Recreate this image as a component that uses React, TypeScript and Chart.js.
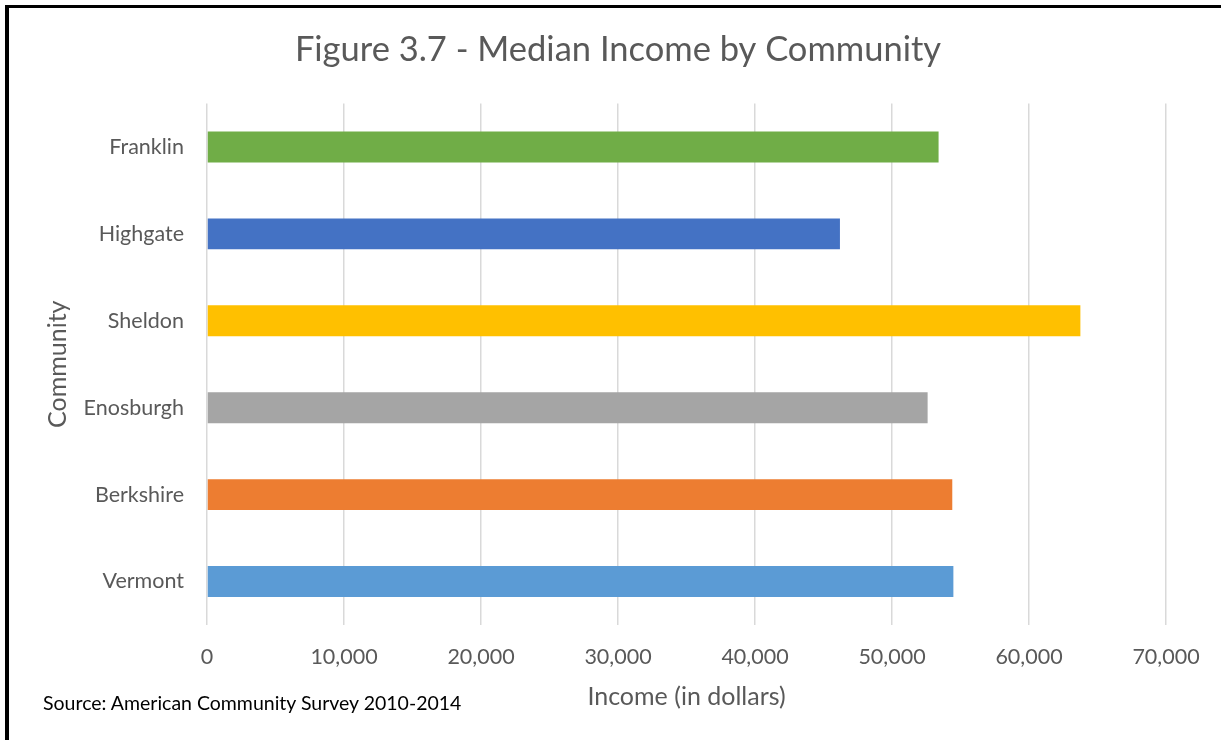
import React, { useEffect, useRef } from "react";
import { Chart, registerables } from "chart.js";

Chart.register(...registerables);

const communities = ["Franklin", "Highgate", "Sheldon", "Enosburgh", "Berkshire", "Vermont"];
const medianIncome = [53400, 46200, 63750, 52600, 54400, 54480];
const barColors = ["#70AD47", "#4472C4", "#FFC000", "#A5A5A5", "#ED7D31", "#5B9BD5"];
const xTicks = [0, 10000, 20000, 30000, 40000, 50000, 60000, 70000];

const FONT = "Lato, Carlito, Calibri, sans-serif";

export default function App() {
  const ref = useRef<HTMLCanvasElement | null>(null);

  useEffect(() => {
    const canvas = ref.current;
    if (!canvas) return;
    const chart = new Chart(canvas, {
      type: "bar",
      data: {
        labels: communities,
        datasets: [
          {
            data: medianIncome,
            backgroundColor: barColors,
            borderWidth: 0,
            categoryPercentage: 1,
            barPercentage: 0.356,
          },
        ],
      },
      options: {
        indexAxis: "y",
        animation: false,
        responsive: false,
        maintainAspectRatio: false,
        layout: { padding: { left: 70, right: 55, top: 0, bottom: 28.5 } },
        plugins: {
          legend: { display: false },
          tooltip: { enabled: false },
          title: {
            display: true,
            text: "Figure 3.7 - Median Income by Community",
            color: "#595959",
            font: { family: FONT, size: 34.5, weight: "normal" },
            padding: { top: 29.5, bottom: 32.6 },
          },
        },
        scales: {
          x: {
            type: "linear",
            min: 0,
            max: 70000,
            afterBuildTicks: (scale: any) => {
              scale.ticks = xTicks.map((v) => ({ value: v }));
            },
            afterFit: (scale: any) => {
              scale.height = 86.5;
            },
            grid: { color: "#D9D9D9", lineWidth: 1.5, drawTicks: false },
            border: { display: false },
            ticks: {
              color: "#595959",
              font: { family: FONT, size: 21.5 },
              padding: 19,
              maxRotation: 0,
              callback: (v: any) => Number(v).toLocaleString("en-US"),
            },
            title: {
              display: true,
              text: "Income (in dollars)",
              color: "#595959",
              font: { family: FONT, size: 25 },
              padding: 0,
            },
          },
          y: {
            type: "category",
            afterFit: (scale: any) => {
              scale.width = 137;
            },
            grid: { display: false, drawTicks: false },
            border: { display: false },
            ticks: {
              color: "#595959",
              font: { family: FONT, size: 21.5 },
              padding: 23,
            },
            title: {
              display: true,
              text: "Community",
              color: "#595959",
              font: { family: FONT, size: 25 },
              padding: { top: -27, bottom: 0 },
            },
          },
        },
      },
    });
    return () => chart.destroy();
  }, []);

  return (
    <div style={{ position: "fixed", left: 0, top: 0, width: 1221, height: 740, background: "#fff" }}>
      <canvas ref={ref} width={1221} height={740} style={{ position: "absolute", left: 0, top: 0 }} />
      <div style={{ position: "absolute", left: 5, top: 5, width: 4, height: 735, background: "#000" }} />
      <div style={{ position: "absolute", left: 5, top: 5, width: 1216, height: 3, background: "#000" }} />
      <div
        style={{
          position: "absolute",
          left: 43,
          top: 691,
          fontFamily: FONT,
          fontSize: 19.5,
          color: "#000",
          whiteSpace: "nowrap",
        }}
      >
        Source: American Community Survey 2010-2014
      </div>
    </div>
  );
}
